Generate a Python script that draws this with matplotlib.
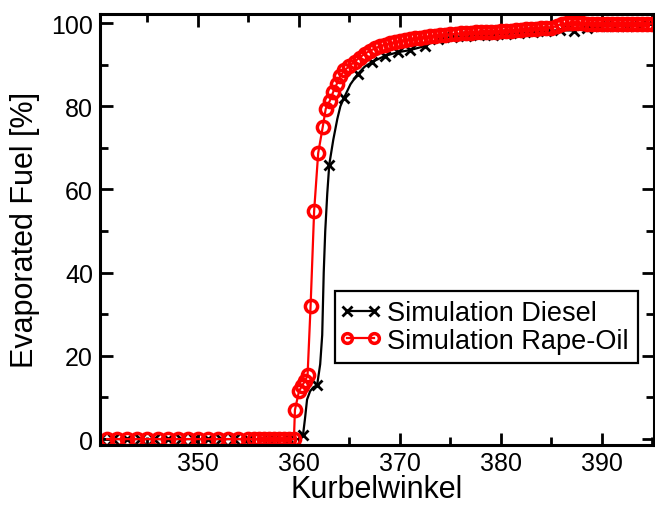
import matplotlib
matplotlib.use("Agg")
import matplotlib.pyplot as plt
from matplotlib.ticker import MultipleLocator
from matplotlib.legend_handler import HandlerLine2D

plt.rcParams['font.family'] = ['Liberation Sans', 'DejaVu Sans']

# ---- data ----
diesel_angle = [340.3, 341.6, 343.0, 344.3, 345.6, 347.0, 348.3, 349.6, 351.0, 352.3,
                353.6, 355.0, 356.3, 357.6, 359.0, 360.0,
                360.4, 360.6, 360.8, 361.1, 361.4, 361.8, 362.1, 362.3, 362.45, 362.6,
                362.8, 363.0, 363.4, 363.8, 364.1, 364.45, 365.1, 365.8, 366.5, 367.2,
                368.5, 369.8, 371.0, 372.5, 373.8, 375.2, 376.5, 377.8, 379.2, 380.5,
                381.8, 383.2, 384.5, 385.8, 387.2, 388.5, 389.8, 391.2, 392.5, 393.8, 395.2]
diesel_fuel = [0, 0, 0, 0, 0, 0, 0, 0, 0, 0,
               0, 0, 0, 0, 0, 0,
               1.0, 5.0, 9.5, 11.5, 12.4, 13.0, 18.0, 25.0, 40.0, 50.0,
               59.0, 66.0, 72.0, 77.0, 80.0, 82.0, 85.3, 87.7, 89.5, 90.6,
               92.1, 93.0, 93.5, 94.5, 96.2, 96.7, 96.9, 97.1, 97.2, 97.4,
               97.65, 97.85, 98.1, 98.3, 98.2, 98.9, 99.2, 99.3, 99.4, 99.5, 99.6]
diesel_marked = [0, 1, 2, 3, 4, 5, 6, 7, 8, 9, 10, 11, 12, 13, 14,
                 16, 21, 27, 31, 33, 35, 36, 37, 38, 39, 40, 41, 42, 43, 44, 45,
                 46, 47, 48, 49, 50, 51, 52, 53, 54, 55, 56]

rape_angle = [341, 342, 343, 344, 345, 346, 347, 348, 349, 350, 351, 352, 353, 354, 355,
              355.5, 356, 356.5, 357, 357.5, 358, 358.5, 359, 359.5,
              359.6, 360.0, 360.3, 360.6, 360.85, 361.15, 361.5, 361.9, 362.35, 362.65,
              363.05, 363.4, 363.75, 364.1,
              364.5, 365.0, 365.5, 366.0, 366.5, 367.0, 367.5, 368.0, 368.5, 369.0,
              369.5, 370.0, 370.5, 371.0, 371.5, 372.0, 372.5, 373.0, 373.5, 374.0,
              374.5, 375.0, 375.5, 376.0, 376.5, 377.0, 377.5, 378.0, 378.5, 379.0,
              379.5, 380.0, 380.5, 381.0, 381.5, 382.0, 382.5, 383.0, 383.5, 384.0,
              384.5, 385.0, 385.5, 386.0, 386.5, 387.0, 387.5, 388.0, 388.5, 389.0,
              389.5, 390.0, 390.5, 391.0, 391.5, 392.0, 392.5, 393.0, 393.5, 394.0,
              394.5, 395.0]
rape_fuel = [0, 0, 0, 0, 0, 0, 0, 0, 0, 0, 0, 0, 0, 0, 0,
             0, 0, 0, 0, 0, 0, 0, 0, 0,
             7.0, 11.5, 12.8, 14.0, 15.3, 32.0, 54.8, 68.7, 75.0, 79.4,
             81.3, 83.5, 85.4, 87.3,
             88.6, 89.7, 90.7, 91.7, 92.6, 93.3, 93.9, 94.4, 94.8, 95.1,
             95.4, 95.7, 95.9, 96.1, 96.3, 96.4, 96.6, 96.8, 96.9, 97.1,
             97.2, 97.3, 97.4, 97.5, 97.6, 97.7, 97.75, 97.8, 97.85, 97.9,
             97.95, 98.0, 98.1, 98.2, 98.3, 98.4, 98.5, 98.5, 98.6, 98.7,
             98.8, 98.9, 99.3, 99.8, 99.9, 99.9, 99.9, 99.9, 99.85, 99.85,
             99.85, 99.85, 99.85, 99.85, 99.85, 99.85, 99.85, 99.85, 99.85, 99.85,
             99.85, 99.85]

x_ticks = [350, 360, 370, 380, 390]
y_ticks = [0, 20, 40, 60, 80, 100]

# ---- figure ----
fig = plt.figure(figsize=(6.55, 5.06), dpi=100)
ax = fig.add_axes([100 / 655, 1 - 445.5 / 506, 554 / 655, 431 / 506])

l1, = ax.plot(diesel_angle, diesel_fuel, color='black', lw=1.6, marker='x', ms=6.5, mew=2,
              markevery=diesel_marked, label='Simulation Diesel', zorder=2)
l2, = ax.plot(rape_angle, rape_fuel, color='#ff0000', lw=1.6, marker='o', ms=8.8, mew=2.5,
              mfc='none', mec='#ff0000', label='Simulation Rape-Oil', zorder=3)

ax.set_xlim(340.3, 395.15)
ax.set_ylim(-1.3, 102.3)
ax.set_xticks(x_ticks)
ax.set_yticks(y_ticks)
ax.xaxis.set_minor_locator(MultipleLocator(5))
ax.yaxis.set_minor_locator(MultipleLocator(10))
ax.tick_params(which='both', direction='in', top=True, right=True, width=2)
ax.tick_params(which='major', length=9, labelsize=18, pad=5)
ax.tick_params(which='minor', length=5.5)
for s in ax.spines.values():
    s.set_linewidth(2.2)
    s.set_zorder(5)

ax.set_xlabel('Kurbelwinkel', fontsize=22, labelpad=-1)
ax.set_ylabel('Evaporated Fuel [%]', fontsize=22, labelpad=8)

hm = {l1: HandlerLine2D(marker_pad=0.12), l2: HandlerLine2D(marker_pad=0.12)}
leg = ax.legend(handler_map=hm, loc='lower left', bbox_to_anchor=(0.424, 0.19),
                borderaxespad=0, fontsize=19.5, numpoints=2, handlelength=1.25,
                handletextpad=0.36, borderpad=0.33, labelspacing=0.06, fancybox=False,
                framealpha=1, edgecolor='black')
leg.get_frame().set_linewidth(1.6)
for h in leg.legend_handles:
    h.set_markersize(7)

fig.savefig('out.png', dpi=100)
